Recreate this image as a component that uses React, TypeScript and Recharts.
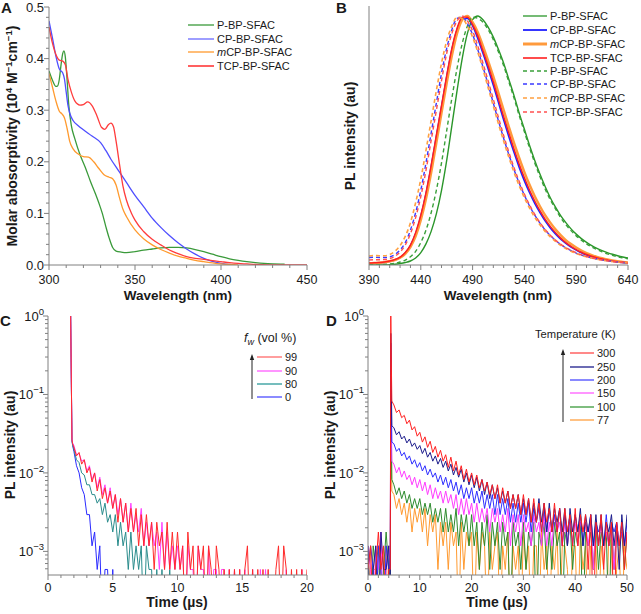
import React from 'react';
import { LineChart, Line, XAxis, YAxis } from 'recharts';

const FONT = '"Liberation Sans", Arial, Helvetica, sans-serif';
const AXIS = '#808080';
const TXT = '#1a1a1a';

// ---------------- Panel A: absorption ----------------
const A_P_WL = [300, 302, 304, 305, 306, 307, 308, 308.7, 309.5, 310.5, 311.5, 313, 315, 318, 321, 324, 327, 329, 331, 333, 335, 337, 339, 342, 345, 350, 355, 360, 365, 370, 375, 380, 385, 390, 395, 400, 405, 410, 415, 420, 425, 430, 437];
const A_P_ABS = [0.376, 0.358, 0.346, 0.347, 0.36, 0.388, 0.41, 0.415, 0.403, 0.36, 0.31, 0.27, 0.245, 0.214, 0.19, 0.163, 0.138, 0.12, 0.1, 0.075, 0.052, 0.034, 0.027, 0.025, 0.024, 0.026, 0.029, 0.031, 0.033, 0.034, 0.034, 0.033, 0.03, 0.026, 0.021, 0.016, 0.012, 0.009, 0.0065, 0.0045, 0.003, 0.0022, 0.0018];
const A_CP_WL = [300, 302, 304, 306, 307, 308, 309, 310, 311, 312, 314, 317, 320, 325, 330, 333, 336, 340, 345, 350, 355, 360, 365, 370, 375, 380, 385, 390, 395, 400, 405, 407];
const A_CP_ABS = [0.473, 0.44, 0.405, 0.38, 0.376, 0.372, 0.36, 0.335, 0.31, 0.295, 0.28, 0.27, 0.262, 0.25, 0.237, 0.222, 0.205, 0.185, 0.16, 0.135, 0.113, 0.091, 0.073, 0.057, 0.043, 0.031, 0.021, 0.013, 0.0068, 0.003, 0.001, 0];
const A_MCP_WL = [300, 302, 304, 306, 307.5, 309, 310.5, 312, 314, 317, 320, 323, 326, 329, 332, 335, 337, 339, 341, 343, 345, 350, 355, 360, 365, 370, 375, 380, 385, 390, 395, 400, 405, 410];
const A_MCP_ABS = [0.371, 0.345, 0.318, 0.298, 0.293, 0.285, 0.265, 0.24, 0.225, 0.215, 0.21, 0.209, 0.2, 0.187, 0.175, 0.17, 0.167, 0.155, 0.13, 0.108, 0.094, 0.068, 0.051, 0.039, 0.03, 0.023, 0.017, 0.013, 0.009, 0.0065, 0.004, 0.002, 0.001, 0];
const A_TCP_WL = [300, 302, 304, 306, 308, 309.5, 311, 313, 315, 318, 320, 322.5, 325, 328, 330.5, 332.5, 334.5, 336, 337.5, 339, 341, 343, 345, 348, 350, 355, 360, 365, 370, 375, 380, 385, 390, 395, 400, 405, 410, 415, 420, 430, 440, 450];
const A_TCP_ABS = [0.461, 0.43, 0.408, 0.397, 0.395, 0.388, 0.36, 0.335, 0.318, 0.31, 0.311, 0.316, 0.309, 0.288, 0.267, 0.263, 0.272, 0.275, 0.268, 0.24, 0.195, 0.153, 0.126, 0.1, 0.087, 0.065, 0.05, 0.039, 0.029, 0.022, 0.016, 0.013, 0.011, 0.0085, 0.0065, 0.0045, 0.003, 0.002, 0.001, 0.0003, 0, 0];
const A_X_TICKS = [300, 310, 320, 330, 340, 350, 360, 370, 380, 390, 400, 410, 420, 430, 440, 450];
const A_X_MAJOR = [300, 350, 400, 450];
const A_Y_TICKS = [0, 0.02, 0.04, 0.06, 0.08, 0.1, 0.12, 0.14, 0.16, 0.18, 0.2, 0.22, 0.24, 0.26, 0.28, 0.3, 0.32, 0.34, 0.36, 0.38, 0.4, 0.42, 0.44, 0.46, 0.48, 0.5];
const A_Y_MAJOR = [0, 0.1, 0.2, 0.3, 0.4, 0.5];

// ---------------- Panel B: PL spectra ----------------
const B_WL = [390, 395, 400, 405, 410, 415, 420, 425, 430, 435, 440, 445, 450, 455, 460, 465, 470, 475, 480, 485, 490, 495, 500, 505, 510, 515, 520, 525, 530, 535, 540, 545, 550, 555, 560, 565, 570, 575, 580, 585, 590, 595, 600, 605, 610, 615, 620, 625, 630, 635, 640];
const B_P = [0, 0, 0, 0, 0.001, 0.003, 0.006, 0.01, 0.016, 0.028, 0.05, 0.085, 0.135, 0.205, 0.3, 0.42, 0.56, 0.7, 0.83, 0.93, 0.985, 1.0, 0.985, 0.955, 0.915, 0.865, 0.81, 0.745, 0.68, 0.61, 0.545, 0.48, 0.42, 0.365, 0.315, 0.27, 0.232, 0.198, 0.17, 0.145, 0.124, 0.106, 0.091, 0.078, 0.067, 0.058, 0.05, 0.043, 0.037, 0.032, 0.028];
const B_CP = [0.006, 0.007, 0.008, 0.01, 0.014, 0.02, 0.03, 0.048, 0.078, 0.125, 0.195, 0.285, 0.395, 0.515, 0.635, 0.755, 0.865, 0.945, 0.99, 0.99, 0.96, 0.91, 0.85, 0.788, 0.722, 0.652, 0.582, 0.515, 0.452, 0.392, 0.338, 0.29, 0.247, 0.21, 0.177, 0.149, 0.125, 0.104, 0.087, 0.072, 0.06, 0.049, 0.04, 0.033, 0.027, 0.022, 0.018, 0.015, 0.012, 0.01, 0.008];
const B_MCP = [0.007, 0.008, 0.009, 0.011, 0.015, 0.02, 0.029, 0.045, 0.072, 0.115, 0.18, 0.265, 0.37, 0.49, 0.61, 0.73, 0.84, 0.93, 0.985, 1.0, 0.975, 0.935, 0.88, 0.82, 0.757, 0.69, 0.622, 0.555, 0.49, 0.43, 0.373, 0.322, 0.276, 0.236, 0.2, 0.17, 0.143, 0.12, 0.1, 0.084, 0.07, 0.058, 0.048, 0.04, 0.033, 0.027, 0.022, 0.018, 0.015, 0.012, 0.01];
const B_TCP = [0.008, 0.009, 0.01, 0.012, 0.016, 0.022, 0.032, 0.05, 0.08, 0.13, 0.2, 0.29, 0.4, 0.52, 0.64, 0.76, 0.87, 0.95, 0.995, 0.995, 0.965, 0.92, 0.86, 0.8, 0.735, 0.665, 0.595, 0.53, 0.465, 0.405, 0.35, 0.3, 0.257, 0.218, 0.184, 0.155, 0.13, 0.108, 0.09, 0.075, 0.062, 0.051, 0.042, 0.035, 0.029, 0.024, 0.02, 0.016, 0.013, 0.011, 0.009];
const B_P_FILM = [0, 0, 0.001, 0.002, 0.004, 0.007, 0.012, 0.02, 0.033, 0.055, 0.09, 0.14, 0.21, 0.3, 0.41, 0.54, 0.67, 0.79, 0.89, 0.96, 0.995, 0.99, 0.975, 0.945, 0.905, 0.855, 0.8, 0.735, 0.67, 0.6, 0.535, 0.47, 0.41, 0.355, 0.305, 0.262, 0.225, 0.19, 0.162, 0.138, 0.117, 0.1, 0.085, 0.072, 0.062, 0.053, 0.045, 0.039, 0.033, 0.029, 0.025];
const B_CP_FILM = [0.03, 0.031, 0.03, 0.03, 0.033, 0.042, 0.06, 0.09, 0.14, 0.21, 0.3, 0.41, 0.53, 0.65, 0.77, 0.87, 0.945, 0.99, 0.995, 0.97, 0.925, 0.865, 0.795, 0.725, 0.65, 0.578, 0.508, 0.443, 0.383, 0.328, 0.28, 0.237, 0.2, 0.168, 0.141, 0.118, 0.099, 0.083, 0.069, 0.058, 0.048, 0.04, 0.034, 0.028, 0.024, 0.02, 0.017, 0.014, 0.012, 0.01, 0.009];
const B_MCP_FILM = [0.036, 0.038, 0.037, 0.037, 0.042, 0.055, 0.078, 0.115, 0.17, 0.25, 0.345, 0.46, 0.58, 0.7, 0.81, 0.9, 0.96, 0.995, 0.99, 0.96, 0.915, 0.855, 0.785, 0.712, 0.638, 0.566, 0.497, 0.432, 0.372, 0.318, 0.27, 0.228, 0.192, 0.161, 0.135, 0.113, 0.095, 0.079, 0.066, 0.055, 0.046, 0.039, 0.033, 0.028, 0.023, 0.02, 0.017, 0.014, 0.012, 0.01, 0.009];
const B_TCP_FILM = [0.02, 0.021, 0.021, 0.022, 0.026, 0.035, 0.052, 0.08, 0.125, 0.19, 0.275, 0.38, 0.5, 0.62, 0.74, 0.85, 0.93, 0.98, 1.0, 0.98, 0.94, 0.88, 0.81, 0.74, 0.665, 0.592, 0.52, 0.453, 0.391, 0.335, 0.285, 0.241, 0.203, 0.17, 0.143, 0.12, 0.1, 0.084, 0.07, 0.059, 0.049, 0.041, 0.034, 0.029, 0.024, 0.02, 0.017, 0.014, 0.012, 0.01, 0.008];
const B_X_TICKS = [390, 400, 410, 420, 430, 440, 450, 460, 470, 480, 490, 500, 510, 520, 530, 540, 550, 560, 570, 580, 590, 600, 610, 620, 630, 640];
const B_X_MAJOR = [390, 440, 490, 540, 590, 640];

// ---------------- Panels C & D: decays (photon counts; 1700 counts = 1.0) ----------------
const PEAK_COUNTS = 1700;
const C_T = [1.75, 1.85, 1.9,
  2.0, 2.2, 2.4, 2.6, 2.8, 3.0, 3.2, 3.4, 3.6, 3.8,
  4.0, 4.2, 4.4, 4.6, 4.8, 5.0, 5.2, 5.4, 5.6, 5.8,
  6.0, 6.2, 6.4, 6.6, 6.8, 7.0, 7.2, 7.4, 7.6, 7.8,
  8.0, 8.2, 8.4, 8.6, 8.8, 9.0, 9.2, 9.4, 9.6, 9.8,
  10.0, 10.2, 10.4, 10.6, 10.8, 11.0, 11.2, 11.4, 11.6, 11.8,
  12.0, 12.2, 12.4, 12.6, 12.8, 13.0, 13.2, 13.4, 13.6, 13.8,
  14.0, 14.2, 14.4, 14.6, 14.8, 15.0, 15.2, 15.4, 15.6, 15.8,
  16.0, 16.2, 16.4, 16.6, 16.8, 17.0, 17.2, 17.4, 17.6, 17.8,
  18.0, 18.2, 18.4, 18.6, 18.8, 19.0, 19.2, 19.4, 19.6, 19.8,
  20.0];
const C_99 = [1700, 45, 40,
  36, 28, 31, 22, 25, 17, 20, 13, 17, 10,
  14, 8, 11, 7, 10, 6, 9, 4, 8, 4,
  7, 3, 6, 3, 6, 2, 5, 2, 5, 2,
  4, 1, 4, 2, 3, 1, 4, 1, 3, 1,
  3, 1, 2, 0, 3, 1, 2, 0, 2, 1,
  2, 0, 2, 1, 0, 2, 1, 0, 1, 0,
  1, 0, 1, 0, 1, 0, 1, 2, 0, 1,
  0, 1, 0, 1, 0, 1, 0, 0, 1, 2,
  0, 2, 1, 0, 1, 0, 1, 0, 1, 0,
  1];
const C_90 = [1700, 45, 41,
  38, 29, 30, 24, 25, 18, 21, 14, 17, 11,
  15, 9, 12, 7, 11, 6, 9, 5, 8, 4,
  7, 3, 7, 3, 5, 3, 6, 2, 4, 2,
  4, 2, 3, 1, 4, 1, 3, 1, 2, 1,
  2, 1, 2, 0, 2, 1, 1, 0, 2, 1,
  1, 0, 2, 0, 1, 1, 0, 1, 1, 0,
  1, 0, 1, 0, 1, 0, 1, 0, 0, 1,
  0, 0, 1, 0, 1, 0, 0, 0, 0, 0,
  0, 0, 1, 0, 0, 0, 0, 0, 1, 0,
  0];
const C_80 = [1700, 44, 39,
  34, 25, 23, 17, 16, 12, 12, 9, 9, 7,
  8, 5, 7, 4, 5, 3, 5, 2, 4, 2,
  3, 1, 3, 1, 2, 1, 2, 0, 2, 1,
  1, 0, 1, 0, 1, 0, 0, 1, 0];
const C_0 = [1700, 44, 38,
  32, 21, 17, 11, 9, 5, 5, 2, 3, 1,
  2, 0, 1, 1, 0, 1, 0];
const C_X_TICKS = [0, 1, 2, 3, 4, 5, 6, 7, 8, 9, 10, 11, 12, 13, 14, 15, 16, 17, 18, 19, 20];
const C_X_MAJOR = [0, 5, 10, 15, 20];

const D_T = [0, 0.5, 1, 1.5, 2, 2.5, 3, 3.5, 4, 4.3, 4.4, 4.6,
  5, 5.5, 6, 6.5, 7, 7.5, 8, 8.5, 9, 9.5,
  10, 10.5, 11, 11.5, 12, 12.5, 13, 13.5, 14, 14.5,
  15, 15.5, 16, 16.5, 17, 17.5, 18, 18.5, 19, 19.5,
  20, 20.5, 21, 21.5, 22, 22.5, 23, 23.5, 24, 24.5,
  25, 25.5, 26, 26.5, 27, 27.5, 28, 28.5, 29, 29.5,
  30, 30.5, 31, 31.5, 32, 32.5, 33, 33.5, 34, 34.5,
  35, 35.5, 36, 36.5, 37, 37.5, 38, 38.5, 39, 39.5,
  40, 40.5, 41, 41.5, 42, 42.5, 43, 43.5, 44, 44.5,
  45, 45.5, 46, 46.5, 47, 47.5, 48, 48.5, 49, 49.5,
  50];
const D_300 = [1, 2, 0, 1, 3, 1, 2, 0, 1, 1, 1700, 140,
  125, 100, 108, 86, 92, 72, 80, 60, 66, 50,
  56, 42, 49, 36, 43, 31, 37, 27, 33, 24,
  29, 20, 27, 18, 24, 16, 21, 14, 19, 13,
  17, 12, 16, 11, 14, 10, 13, 9, 12, 8,
  12, 7, 11, 7, 10, 6, 9, 6, 9, 5,
  9, 5, 8, 4, 8, 4, 7, 3, 7, 4,
  6, 3, 7, 3, 6, 2, 6, 3, 5, 2,
  6, 2, 5, 3, 5, 1, 5, 0, 4, 2,
  5, 1, 4, 2, 4, 0, 4, 2, 4, 1,
  3];
const D_250 = [2, 0, 1, 2, 0, 3, 1, 1, 2, 0, 1020, 68,
  64, 52, 57, 46, 50, 41, 46, 37, 41, 34,
  38, 30, 35, 27, 31, 24, 28, 22, 26, 20,
  24, 18, 22, 16, 20, 15, 19, 13, 17, 12,
  16, 11, 15, 10, 14, 9, 13, 8, 12, 8,
  11, 7, 10, 7, 10, 6, 9, 6, 9, 5,
  8, 5, 8, 4, 7, 4, 8, 4, 7, 3,
  7, 3, 6, 4, 6, 3, 6, 2, 6, 3,
  5, 3, 6, 2, 5, 3, 5, 2, 5, 2,
  5, 2, 4, 3, 5, 2, 4, 1, 5, 2,
  5];
const D_200 = [1, 2, 1, 0, 2, 1, 0, 2, 1, 1, 765, 42,
  40, 32, 35, 28, 31, 25, 28, 22, 25, 20,
  23, 18, 21, 16, 19, 15, 17, 13, 16, 12,
  15, 11, 14, 10, 13, 9, 12, 8, 11, 8,
  11, 7, 10, 7, 10, 6, 9, 6, 9, 5,
  9, 5, 8, 5, 8, 4, 7, 4, 7, 4,
  7, 4, 7, 3, 6, 4, 6, 3, 6, 3,
  6, 3, 5, 3, 6, 2, 5, 3, 5, 2,
  5, 3, 5, 2, 4, 3, 5, 2, 4, 3,
  4, 2, 5, 2, 4, 3, 4, 2, 4, 2,
  4];
const D_150 = [2, 1, 0, 2, 1, 3, 0, 1, 2, 1, 510, 24,
  22, 17, 20, 15, 18, 14, 16, 12, 15, 11,
  14, 10, 13, 9, 12, 8, 11, 8, 10, 7,
  10, 7, 9, 6, 9, 5, 8, 5, 8, 5,
  7, 4, 7, 4, 6, 4, 6, 3, 6, 4,
  6, 3, 5, 3, 6, 2, 5, 3, 5, 2,
  5, 3, 4, 2, 5, 3, 4, 2, 5, 2,
  4, 2, 5, 3, 4, 2, 4, 2, 4, 3,
  4, 2, 4, 3, 4, 2, 4, 1, 4, 2,
  4, 2, 3, 2, 4, 1, 4, 2, 3, 2,
  3];
const D_100 = [1, 0, 2, 1, 2, 0, 1, 3, 1, 0, 340, 14,
  12, 9, 11, 8, 10, 7, 9, 6, 8, 6,
  8, 5, 7, 5, 7, 4, 6, 4, 6, 3,
  6, 3, 5, 3, 6, 2, 5, 3, 5, 2,
  5, 2, 4, 1, 4, 2, 5, 1, 4, 2,
  4, 1, 4, 2, 3, 0, 4, 2, 3, 1,
  4, 1, 3, 2, 4, 0, 3, 2, 4, 1,
  3, 1, 4, 2, 3, 0, 3, 2, 4, 1,
  3, 2, 4, 0, 3, 2, 3, 1, 4, 1,
  3, 2, 3, 0, 4, 1, 3, 2, 3, 1,
  3];
const D_77 = [0, 2, 1, 1, 0, 2, 1, 2, 0, 1, 255, 10,
  9, 6, 8, 5, 7, 4, 7, 3, 6, 4,
  6, 3, 6, 2, 5, 3, 5, 1, 4, 2,
  4, 1, 4, 2, 3, 0, 4, 1, 3, 2,
  3, 0, 3, 1, 3, 2, 0, 3, 1, 2,
  3, 0, 2, 1, 3, 0, 2, 1, 2, 0,
  3, 1, 2, 0, 2, 2, 0, 3, 1, 2,
  0, 2, 1, 3, 0, 2, 2, 1, 0, 2,
  2, 0, 3, 1, 2, 0, 2, 1, 2, 0,
  2, 1, 0, 3, 2, 0, 1, 2, 0, 2,
  1];
const D_X_TICKS = [0, 2, 4, 6, 8, 10, 12, 14, 16, 18, 20, 22, 24, 26, 28, 30, 32, 34, 36, 38, 40, 42, 44, 46, 48, 50];
const D_X_MAJOR = [0, 10, 20, 30, 40, 50];

const LOG_TICKS = [0.0006, 0.0007, 0.0008, 0.0009, 0.001, 0.002, 0.003, 0.004, 0.005, 0.006, 0.007, 0.008, 0.009, 0.01, 0.02, 0.03, 0.04, 0.05, 0.06, 0.07, 0.08, 0.09, 0.1, 0.2, 0.3, 0.4, 0.5, 0.6, 0.7, 0.8, 0.9, 1];
const LOG_MAJOR = [0.001, 0.01, 0.1, 1];

// ---------------- helpers ----------------
const zip = (xs: number[], ys: number[]) => xs.map((x, i) => ({ x, y: ys[i] }));
const toI = (c: number | undefined) => (c === undefined || c === null ? null : c === 0 ? 0.0001 : c / PEAK_COUNTS);
const isIn = (arr: number[], v: number) => arr.some((m) => Math.abs(m - v) < 1e-9);

const B_DATA = B_WL.map((x, i) => ({
  x, p: B_P[i], cp: B_CP[i], mcp: B_MCP[i], tcp: B_TCP[i],
  pf: B_P_FILM[i], cpf: B_CP_FILM[i], mcpf: B_MCP_FILM[i], tcpf: B_TCP_FILM[i],
}));
const C_DATA = C_T.map((t, i) => ({ t, s99: toI(C_99[i]), s90: toI(C_90[i]), s80: toI(C_80[i]), s0: toI(C_0[i]) }));
const D_DATA = D_T.map((t, i) => ({
  t, k300: toI(D_300[i]), k250: toI(D_250[i]), k200: toI(D_200[i]),
  k150: toI(D_150[i]), k100: toI(D_100[i]), k77: toI(D_77[i]),
}));

const TICK_FS = 12.5;

const xTick = (majors: number[], labelDy: number) => (p: any) => {
  const v = p.payload.value;
  const major = isIn(majors, v);
  return (
    <g>
      <line x1={p.x} x2={p.x} y1={p.y} y2={p.y + (major ? 5 : 3)} stroke={AXIS} strokeWidth={1} />
      {major && (
        <text x={p.x} y={p.y + labelDy} textAnchor="middle" fontSize={TICK_FS} fontFamily={FONT} fill={TXT}>{String(v)}</text>
      )}
    </g>
  );
};
const yTick = (majors: number[]) => (p: any) => {
  const v = p.payload.value;
  const major = isIn(majors, v);
  return (
    <g>
      <line x1={p.x} x2={p.x - (major ? 5 : 3)} y1={p.y} y2={p.y} stroke={AXIS} strokeWidth={1} />
      {major && (
        <text x={p.x - 5} y={p.y} dy="0.35em" textAnchor="end" fontSize={13} fontFamily={FONT} fill={TXT}>{v.toFixed(1)}</text>
      )}
    </g>
  );
};
const logTick = (p: any) => {
  const v = p.payload.value;
  const major = isIn(LOG_MAJOR, v);
  const e = Math.round(Math.log10(v));
  return (
    <g>
      <line x1={p.x} x2={p.x - (major ? 5 : 3)} y1={p.y} y2={p.y} stroke={AXIS} strokeWidth={1} />
      {major && (
        <text x={p.x - 4} y={p.y} dy="0.38em" textAnchor="end" fontSize={13} fontFamily={FONT} fill={TXT}>
          10<tspan dy={-6} fontSize={9.5}>{e === 0 ? '0' : '\u2212' + String(-e)}</tspan>
        </text>
      )}
    </g>
  );
};

const frameAxes = [
  <XAxis key="ft" xAxisId="top" orientation="top" type="number" domain={[0, 1]} height={0} tick={false} tickLine={false} axisLine={{ stroke: AXIS }} />,
  <YAxis key="fr" yAxisId="right" orientation="right" type="number" domain={[0, 1]} width={0} tick={false} tickLine={false} axisLine={{ stroke: AXIS }} />,
];

const ln = { dot: false, isAnimationActive: false, activeDot: false } as const;

function PanelA() {
  return (
    <LineChart width={320} height={300} margin={{ top: 7, right: 13, bottom: 0, left: 0 }}>
      <XAxis dataKey="x" type="number" domain={[300, 450]} ticks={A_X_TICKS} interval={0} tickSize={0} tickMargin={0} tickLine={false} height={35} axisLine={{ stroke: AXIS }} tick={xTick(A_X_MAJOR, 19)} allowDataOverflow />
      <YAxis type="number" domain={[0, 0.5]} ticks={A_Y_TICKS} interval={0} tickSize={0} tickMargin={0} tickLine={false} width={49} axisLine={{ stroke: AXIS }} tick={yTick(A_Y_MAJOR)} allowDataOverflow />
      {frameAxes}
      <Line {...ln} data={zip(A_P_WL, A_P_ABS)} dataKey="y" type="monotone" stroke="#3a9a3a" strokeWidth={1.3} />
      <Line {...ln} data={zip(A_CP_WL, A_CP_ABS)} dataKey="y" type="monotone" stroke="#4f4fff" strokeWidth={1.3} />
      <Line {...ln} data={zip(A_MCP_WL, A_MCP_ABS)} dataKey="y" type="monotone" stroke="#ff9a2e" strokeWidth={1.3} />
      <Line {...ln} data={zip(A_TCP_WL, A_TCP_ABS)} dataKey="y" type="monotone" stroke="#ff3c3c" strokeWidth={1.3} />
    </LineChart>
  );
}

function PanelB() {
  const dash = '4 3';
  return (
    <LineChart width={321} height={300} data={B_DATA} margin={{ top: 6, right: 13, bottom: 0, left: 0 }}>
      <XAxis dataKey="x" type="number" domain={[390, 640]} ticks={B_X_TICKS} interval={0} tickSize={0} tickMargin={0} tickLine={false} height={35} axisLine={{ stroke: AXIS }} tick={xTick(B_X_MAJOR, 19)} allowDataOverflow />
      <YAxis type="number" domain={[0, 1.04]} tick={false} tickLine={false} width={49} axisLine={{ stroke: AXIS }} allowDataOverflow />
      {frameAxes}
      <Line {...ln} dataKey="p" type="monotone" stroke="#2a962a" strokeWidth={1.4} />
      <Line {...ln} dataKey="cp" type="monotone" stroke="#1f1fff" strokeWidth={1.6} />
      <Line {...ln} dataKey="mcp" type="monotone" stroke="#ff9a3c" strokeWidth={2.4} />
      <Line {...ln} dataKey="tcp" type="monotone" stroke="#ff1f1f" strokeWidth={1.5} />
      <Line {...ln} dataKey="pf" type="monotone" stroke="#3aa03a" strokeWidth={1.4} strokeDasharray={dash} />
      <Line {...ln} dataKey="cpf" type="monotone" stroke="#3a3aff" strokeWidth={1.4} strokeDasharray={dash} />
      <Line {...ln} dataKey="mcpf" type="monotone" stroke="#ffa040" strokeWidth={1.6} strokeDasharray={dash} />
      <Line {...ln} dataKey="tcpf" type="monotone" stroke="#ff5050" strokeWidth={1.4} strokeDasharray={dash} />
    </LineChart>
  );
}

function PanelC() {
  return (
    <LineChart width={320} height={314} data={C_DATA} margin={{ top: 16, right: 13, bottom: 0, left: 0 }}>
      <XAxis dataKey="t" type="number" domain={[0, 20]} ticks={C_X_TICKS} interval={0} tickSize={0} tickMargin={0} tickLine={false} height={39} axisLine={{ stroke: AXIS }} tick={xTick(C_X_MAJOR, 17)} allowDataOverflow />
      <YAxis type="number" scale="log" domain={[0.0005, 1]} ticks={LOG_TICKS} interval={0} tickSize={0} tickMargin={0} tickLine={false} width={48} axisLine={{ stroke: AXIS }} tick={logTick} allowDataOverflow />
      {frameAxes}
      <Line {...ln} dataKey="s0" type="linear" stroke="#2a2aff" strokeWidth={1} />
      <Line {...ln} dataKey="s80" type="linear" stroke="#2a8c8c" strokeWidth={1} />
      <Line {...ln} dataKey="s90" type="linear" stroke="#ff40ff" strokeWidth={1} />
      <Line {...ln} dataKey="s99" type="linear" stroke="#ff2a2a" strokeWidth={1} />
    </LineChart>
  );
}

function PanelD() {
  return (
    <LineChart width={321} height={314} data={D_DATA} margin={{ top: 16, right: 14, bottom: 0, left: 0 }}>
      <XAxis dataKey="t" type="number" domain={[0, 50]} ticks={D_X_TICKS} interval={0} tickSize={0} tickMargin={0} tickLine={false} height={39} axisLine={{ stroke: AXIS }} tick={xTick(D_X_MAJOR, 17)} allowDataOverflow />
      <YAxis type="number" scale="log" domain={[0.0005, 1]} ticks={LOG_TICKS} interval={0} tickSize={0} tickMargin={0} tickLine={false} width={48} axisLine={{ stroke: AXIS }} tick={logTick} allowDataOverflow />
      {frameAxes}
      <Line {...ln} dataKey="k77" type="linear" stroke="#ff9a30" strokeWidth={1} />
      <Line {...ln} dataKey="k100" type="linear" stroke="#2e8b2e" strokeWidth={1} />
      <Line {...ln} dataKey="k150" type="linear" stroke="#ff3cff" strokeWidth={1} />
      <Line {...ln} dataKey="k200" type="linear" stroke="#2e2eff" strokeWidth={1} />
      <Line {...ln} dataKey="k250" type="linear" stroke="#1c1c8c" strokeWidth={1} />
      <Line {...ln} dataKey="k300" type="linear" stroke="#ff2020" strokeWidth={1} />
    </LineChart>
  );
}

const T = (props: any) => <text fontFamily={FONT} fill={TXT} {...props} />;

function LegendRow({ x1, x2, y, color, width = 1.3, dash, children, tx, fs = 11 }: any) {
  return (
    <g>
      <line x1={x1} x2={x2} y1={y} y2={y} stroke={color} strokeWidth={width} strokeDasharray={dash} />
      <T x={tx} y={y} dy="0.36em" fontSize={fs}>{children}</T>
    </g>
  );
}

const M = () => <tspan fontStyle="italic">m</tspan>;

function Overlay() {
  const dash = '4 3';
  return (
    <svg width={641} height={614} style={{ position: 'absolute', left: 0, top: 0, pointerEvents: 'none' }}>
      <T x={1} y={13} fontSize={15} fontWeight="bold">A</T>
      <T x={336} y={13} fontSize={15} fontWeight="bold">B</T>
      <T x={0} y={326} fontSize={15} fontWeight="bold">C</T>
      <T x={326} y={326} fontSize={15} fontWeight="bold">D</T>

      <T transform="translate(12,136) rotate(-90)" textAnchor="middle" dy="0.35em" fontSize={14} fontWeight="bold">
        Molar abosorptivity (10<tspan dy={-5} fontSize={9.5}>4</tspan><tspan dy={5}> M</tspan><tspan dy={-5} fontSize={9.5}>{'\u2212'}1</tspan><tspan dy={5}>cm</tspan><tspan dy={-5} fontSize={9.5}>{'\u2212'}1</tspan><tspan dy={5}>)</tspan>
      </T>
      <T x={178} y={299.5} textAnchor="middle" fontSize={13.5} fontWeight="bold">Wavelength (nm)</T>
      <T transform="translate(350,136) rotate(-90)" textAnchor="middle" dy="0.35em" fontSize={14} fontWeight="bold">PL intensity (au)</T>
      <T x={498} y={299.5} textAnchor="middle" fontSize={13.5} fontWeight="bold">Wavelength (nm)</T>
      <T transform="translate(10,445) rotate(-90)" textAnchor="middle" dy="0.35em" fontSize={14} fontWeight="bold">PL intensity (au)</T>
      <T x={177} y={607} textAnchor="middle" fontSize={14} fontWeight="bold">Time (µs)</T>
      <T transform="translate(330,445) rotate(-90)" textAnchor="middle" dy="0.35em" fontSize={14} fontWeight="bold">PL intensity (au)</T>
      <T x={497} y={607} textAnchor="middle" fontSize={14} fontWeight="bold">Time (µs)</T>

      <LegendRow x1={188} x2={214} tx={217} y={25} color="#3a9a3a">P-BP-SFAC</LegendRow>
      <LegendRow x1={188} x2={214} tx={217} y={39} color="#6a6aff">CP-BP-SFAC</LegendRow>
      <LegendRow x1={188} x2={214} tx={217} y={52} color="#ff9a2e"><M />CP-BP-SFAC</LegendRow>
      <LegendRow x1={188} x2={214} tx={217} y={66} color="#ff6060" width={2}>TCP-BP-SFAC</LegendRow>

      <LegendRow x1={523} x2={547} tx={550} y={16} color="#2a962a">P-BP-SFAC</LegendRow>
      <LegendRow x1={523} x2={547} tx={550} y={30} color="#1f1fff" width={1.8}>CP-BP-SFAC</LegendRow>
      <LegendRow x1={523} x2={547} tx={550} y={44} color="#ff9a3c" width={3}><M />CP-BP-SFAC</LegendRow>
      <LegendRow x1={523} x2={547} tx={550} y={58} color="#ff1f1f" width={1.6}>TCP-BP-SFAC</LegendRow>
      <LegendRow x1={523} x2={547} tx={550} y={71} color="#3aa03a" dash={dash}>P-BP-SFAC</LegendRow>
      <LegendRow x1={523} x2={547} tx={550} y={84} color="#3a3aff" dash={dash}>CP-BP-SFAC</LegendRow>
      <LegendRow x1={523} x2={547} tx={550} y={98} color="#ffa040" dash={dash}><M />CP-BP-SFAC</LegendRow>
      <LegendRow x1={523} x2={547} tx={550} y={112} color="#ff5050" dash={dash}>TCP-BP-SFAC</LegendRow>

      <T x={244} y={342} fontSize={12.5}>
        <tspan fontStyle="italic">f</tspan><tspan fontStyle="italic" fontSize={9} dy={3}>w</tspan><tspan dy={-3}> (vol %)</tspan>
      </T>
      <line x1={252} x2={252} y1={399} y2={359} stroke="#222" strokeWidth={1} />
      <polygon points="252,354 249.8,360 254.2,360" fill="#222" />
      <LegendRow x1={257} x2={282} tx={285} y={357} color="#ff6a6a">99</LegendRow>
      <LegendRow x1={257} x2={282} tx={285} y={371} color="#ff5cff">90</LegendRow>
      <LegendRow x1={257} x2={282} tx={285} y={384} color="#2a9a9a">80</LegendRow>
      <LegendRow x1={257} x2={282} tx={285} y={397} color="#4d4dff">0</LegendRow>

      <T x={535} y={338} fontSize={11.2}>Temperature (K)</T>
      <line x1={563} x2={563} y1={422} y2={354} stroke="#222" strokeWidth={1} />
      <polygon points="563,349 560.8,355 565.2,355" fill="#222" />
      <LegendRow x1={570} x2={594} tx={597} y={353} color="#ff4a4a">300</LegendRow>
      <LegendRow x1={570} x2={594} tx={597} y={367} color="#1c1c8c">250</LegendRow>
      <LegendRow x1={570} x2={594} tx={597} y={380} color="#4a4aff">200</LegendRow>
      <LegendRow x1={570} x2={594} tx={597} y={393} color="#ff5cff">150</LegendRow>
      <LegendRow x1={570} x2={594} tx={597} y={407} color="#3a9a3a">100</LegendRow>
      <LegendRow x1={570} x2={594} tx={597} y={420} color="#ffa040">77</LegendRow>
    </svg>
  );
}

export default function App() {
  return (
    <div style={{ position: 'absolute', left: 0, top: 0, width: 641, height: 614, background: '#fff', fontFamily: FONT, overflow: 'hidden' }}>
      <div style={{ position: 'absolute', left: 0, top: 0 }}><PanelA /></div>
      <div style={{ position: 'absolute', left: 320, top: 0 }}><PanelB /></div>
      <div style={{ position: 'absolute', left: 0, top: 300 }}><PanelC /></div>
      <div style={{ position: 'absolute', left: 320, top: 300 }}><PanelD /></div>
      <Overlay />
    </div>
  );
}
